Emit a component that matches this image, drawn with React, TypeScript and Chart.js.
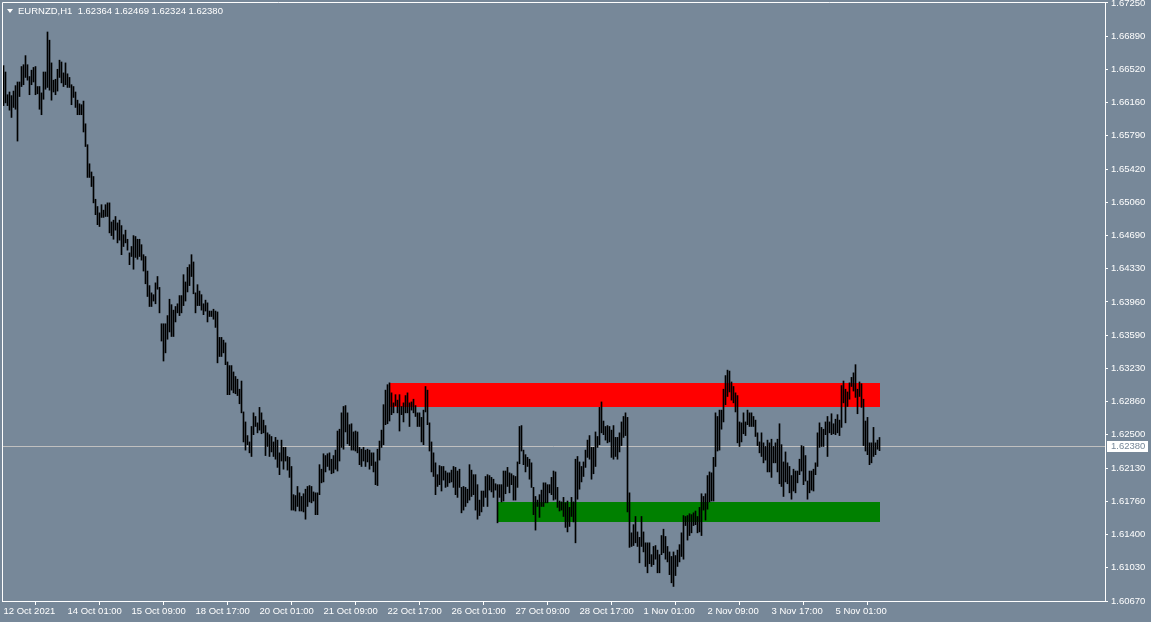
import React, { useEffect, useRef } from "react";
import { Chart, registerables } from "chart.js";

Chart.register(...registerables);

// ---------- data ----------
const symbolName = "EURNZD,H1";
const lastBarQuote = ["1.62364", "1.62469", "1.62324", "1.62380"];
const currentPrice = 1.6238;
const currentPriceLabel = "1.62380";

const xTickIndex = [0, 32, 64, 96, 128, 160, 192, 224, 256, 288, 320, 352, 384, 416];
const xTickLabels = [
  "12 Oct 2021", "14 Oct 01:00", "15 Oct 09:00", "18 Oct 17:00", "20 Oct 01:00",
  "21 Oct 09:00", "22 Oct 17:00", "26 Oct 01:00", "27 Oct 09:00", "28 Oct 17:00",
  "1 Nov 01:00", "2 Nov 09:00", "3 Nov 17:00", "5 Nov 01:00",
];

const yTickLabels = [
  "1.67250", "1.66890", "1.66520", "1.66160", "1.65790", "1.65420", "1.65060",
  "1.64690", "1.64330", "1.63960", "1.63590", "1.63230", "1.62860", "1.62500",
  "1.62130", "1.61760", "1.61400", "1.61030", "1.60670",
];
const yTickTop = 1.6725;
const yTickBottom = 1.6067;
const yMin = 1.6067;
const yMax = 1.6726;

const highs = [
  1.6656, 1.6649, 1.6624, 1.6627, 1.6623, 1.6628, 1.6634, 1.6638, 1.6638, 1.6655,
  1.6657, 1.6667, 1.6657, 1.6644, 1.6651, 1.6654, 1.6655, 1.6633, 1.6633, 1.6626,
  1.6649, 1.6649, 1.6693, 1.6684, 1.6659, 1.6640, 1.6641, 1.6652, 1.6662, 1.6660,
  1.6648, 1.6659, 1.6647, 1.6643, 1.6635, 1.6633, 1.6627, 1.6618, 1.6614, 1.6613,
  1.6617, 1.6592, 1.6569, 1.6548, 1.6539, 1.6534, 1.6509, 1.6501, 1.6494, 1.6503,
  1.6497, 1.6503, 1.6505, 1.6505, 1.6484, 1.6486, 1.6490, 1.6483, 1.6486, 1.6480,
  1.6470, 1.6475, 1.6465, 1.6450, 1.6457, 1.6469, 1.6468, 1.6465, 1.6465, 1.6459,
  1.6448, 1.6446, 1.6430, 1.6414, 1.6406, 1.6404, 1.6417, 1.6424, 1.6412, 1.6372,
  1.6372, 1.6372, 1.6381, 1.6399, 1.6393, 1.6387, 1.6391, 1.6394, 1.6403, 1.6403,
  1.6426, 1.6418, 1.6434, 1.6437, 1.6448, 1.6440, 1.6406, 1.6415, 1.6408, 1.6404,
  1.6394, 1.6398, 1.6395, 1.6386, 1.6386, 1.6388, 1.6386, 1.6385, 1.6357, 1.6357,
  1.6354, 1.6351, 1.6330, 1.6326, 1.6326, 1.6319, 1.6314, 1.6311, 1.6300, 1.6309,
  1.6275, 1.6264, 1.6249, 1.6242, 1.6259, 1.6274, 1.6270, 1.6263, 1.6280, 1.6274,
  1.6266, 1.6260, 1.6252, 1.6250, 1.6248, 1.6242, 1.6247, 1.6244, 1.6230, 1.6244,
  1.6236, 1.6236, 1.6226, 1.6225, 1.6215, 1.6184, 1.6183, 1.6193, 1.6186, 1.6182,
  1.6185, 1.6190, 1.6193, 1.6194, 1.6193, 1.6187, 1.6186, 1.6186, 1.6217, 1.6212,
  1.6229, 1.6227, 1.6229, 1.6230, 1.6223, 1.6227, 1.6233, 1.6254, 1.6256, 1.6274,
  1.6281, 1.6282, 1.6274, 1.6261, 1.6262, 1.6253, 1.6254, 1.6253, 1.6236, 1.6234,
  1.6236, 1.6233, 1.6234, 1.6233, 1.6230, 1.6230, 1.6220, 1.6234, 1.6243, 1.6255,
  1.6283, 1.6299, 1.6305, 1.6307, 1.6296, 1.6285, 1.6294, 1.6288, 1.6294, 1.6281,
  1.6285, 1.6293, 1.6296, 1.6285, 1.6286, 1.6289, 1.6282, 1.6274, 1.6274, 1.6269,
  1.6277, 1.6303, 1.6299, 1.6263, 1.6242, 1.6230, 1.6219, 1.6206, 1.6216, 1.6215,
  1.6215, 1.6210, 1.6208, 1.6208, 1.6211, 1.6215, 1.6214, 1.6210, 1.6212, 1.6192,
  1.6193, 1.6192, 1.6190, 1.6217, 1.6211, 1.6206, 1.6206, 1.6195, 1.6178, 1.6188,
  1.6188, 1.6204, 1.6206, 1.6205, 1.6203, 1.6201, 1.6196, 1.6195, 1.6195, 1.6195,
  1.6210, 1.6210, 1.6214, 1.6208, 1.6207, 1.6205, 1.6204, 1.6220, 1.6259, 1.6260,
  1.6233, 1.6228, 1.6225, 1.6223, 1.6219, 1.6192, 1.6182, 1.6178, 1.6184, 1.6189,
  1.6197, 1.6197, 1.6195, 1.6195, 1.6203, 1.6210, 1.6209, 1.6192, 1.6177, 1.6176,
  1.6181, 1.6175, 1.6177, 1.6170, 1.6181, 1.6176, 1.6223, 1.6226, 1.6220, 1.6215,
  1.6220, 1.6233, 1.6244, 1.6249, 1.6236, 1.6236, 1.6253, 1.6248, 1.6280, 1.6286,
  1.6265, 1.6259, 1.6260, 1.6259, 1.6255, 1.6260, 1.6247, 1.6247, 1.6252, 1.6264,
  1.6270, 1.6274, 1.6269, 1.6186, 1.6142, 1.6151, 1.6160, 1.6143, 1.6137, 1.6160,
  1.6143, 1.6131, 1.6131, 1.6131, 1.6118, 1.6127, 1.6128, 1.6123, 1.6118, 1.6139,
  1.6146, 1.6138, 1.6127, 1.6121, 1.6116, 1.6121, 1.6117, 1.6123, 1.6129, 1.6142,
  1.6161, 1.6160, 1.6161, 1.6163, 1.6162, 1.6164, 1.6166, 1.6160, 1.6170, 1.6185,
  1.6182, 1.6185, 1.6205, 1.6209, 1.6208, 1.6225, 1.6274, 1.6270, 1.6277, 1.6277,
  1.6300, 1.6315, 1.6321, 1.6320, 1.6308, 1.6303, 1.6296, 1.6293, 1.6264, 1.6263,
  1.6274, 1.6264, 1.6277, 1.6274, 1.6274, 1.6270, 1.6266, 1.6252, 1.6242, 1.6252,
  1.6241, 1.6237, 1.6244, 1.6241, 1.6245, 1.6237, 1.6241, 1.6245, 1.6262, 1.6239,
  1.6220, 1.6231, 1.6219, 1.6215, 1.6205, 1.6212, 1.6210, 1.6210, 1.6223, 1.6238,
  1.6237, 1.6227, 1.6199, 1.6210, 1.6210, 1.6212, 1.6219, 1.6252, 1.6263, 1.6258,
  1.6256, 1.6264, 1.6270, 1.6264, 1.6273, 1.6262, 1.6267, 1.6272, 1.6266, 1.6304,
  1.6309, 1.6300, 1.6297, 1.6307, 1.6313, 1.6318, 1.6327, 1.6300, 1.6308, 1.6306,
  1.6289, 1.6265, 1.6269, 1.6241, 1.6241, 1.6258, 1.6241, 1.6244, 1.62469,
];

const lows = [
  1.6612, 1.6615, 1.6612, 1.6607, 1.6599, 1.6610, 1.6608, 1.6573, 1.6622, 1.6633,
  1.6635, 1.6643, 1.6640, 1.6624, 1.6635, 1.6638, 1.6624, 1.6625, 1.6608, 1.6602,
  1.6619, 1.6630, 1.6632, 1.6629, 1.6618, 1.6627, 1.6624, 1.6628, 1.6643, 1.6637,
  1.6633, 1.6635, 1.6632, 1.6632, 1.6613, 1.6621, 1.6610, 1.6602, 1.6602, 1.6602,
  1.6583, 1.6567, 1.6533, 1.6533, 1.6523, 1.6505, 1.6492, 1.6481, 1.6479, 1.6489,
  1.6489, 1.6490, 1.6490, 1.6472, 1.6469, 1.6465, 1.6475, 1.6461, 1.6464, 1.6448,
  1.6457, 1.6461, 1.6453, 1.6437, 1.6446, 1.6432, 1.6445, 1.6443, 1.6446, 1.6442,
  1.6430, 1.6416, 1.6402, 1.6391, 1.6391, 1.6397, 1.6394, 1.6410, 1.6384, 1.6353,
  1.6331, 1.6340, 1.6355, 1.6363, 1.6358, 1.6358, 1.6374, 1.6384, 1.6381, 1.6384,
  1.6392, 1.6397, 1.6407, 1.6414, 1.6424, 1.6405, 1.6384, 1.6392, 1.6392, 1.6387,
  1.6382, 1.6386, 1.6374, 1.6380, 1.6380, 1.6377, 1.6368, 1.6329, 1.6336, 1.6336,
  1.6340, 1.6327, 1.6294, 1.6294, 1.6299, 1.6296, 1.6295, 1.6293, 1.6284, 1.6274,
  1.6242, 1.6233, 1.6239, 1.6230, 1.6226, 1.6250, 1.6259, 1.6252, 1.6255, 1.6251,
  1.6252, 1.6227, 1.6237, 1.6226, 1.6231, 1.6226, 1.6223, 1.6214, 1.6206, 1.6221,
  1.6212, 1.6221, 1.6211, 1.6203, 1.6167, 1.6167, 1.6166, 1.6171, 1.6166, 1.6166,
  1.6165, 1.6157, 1.6171, 1.6176, 1.6175, 1.6177, 1.6162, 1.6162, 1.6184, 1.6197,
  1.6198, 1.6209, 1.6215, 1.6211, 1.6207, 1.6208, 1.6212, 1.6210, 1.6221, 1.6236,
  1.6234, 1.6253, 1.6240, 1.6238, 1.6233, 1.6233, 1.6232, 1.6230, 1.6217, 1.6215,
  1.6221, 1.6215, 1.6220, 1.6212, 1.6216, 1.6209, 1.6195, 1.6194, 1.6222, 1.6236,
  1.6239, 1.6261, 1.6262, 1.6265, 1.6272, 1.6274, 1.6282, 1.6274, 1.6254, 1.6272,
  1.6264, 1.6274, 1.6274, 1.6259, 1.6277, 1.6274, 1.6270, 1.6259, 1.6259, 1.6242,
  1.6239, 1.6275, 1.6261, 1.6232, 1.6209, 1.6204, 1.6184, 1.6193, 1.6195, 1.6188,
  1.6200, 1.6192, 1.6193, 1.6197, 1.6198, 1.6192, 1.6184, 1.6181, 1.6192, 1.6164,
  1.6167, 1.6171, 1.6175, 1.6178, 1.6182, 1.6184, 1.6167, 1.6157, 1.6161, 1.6165,
  1.6171, 1.6181, 1.6171, 1.6189, 1.6187, 1.6181, 1.6189, 1.6153, 1.6181, 1.6176,
  1.6177, 1.6185, 1.6193, 1.6186, 1.6195, 1.6178, 1.6178, 1.6192, 1.6218, 1.6232,
  1.6217, 1.6209, 1.6215, 1.6201, 1.6192, 1.6162, 1.6145, 1.6171, 1.6159, 1.6171,
  1.6171, 1.6175, 1.6175, 1.6186, 1.6184, 1.6178, 1.6179, 1.6170, 1.6166, 1.6167,
  1.6160, 1.6148, 1.6143, 1.6149, 1.6160, 1.6154, 1.6131, 1.6179, 1.6190, 1.6198,
  1.6204, 1.6214, 1.6225, 1.6223, 1.6201, 1.6207, 1.6215, 1.6236, 1.6239, 1.6252,
  1.6250, 1.6244, 1.6241, 1.6242, 1.6225, 1.6223, 1.6226, 1.6223, 1.6231, 1.6238,
  1.6247, 1.6249, 1.6165, 1.6126, 1.6127, 1.6128, 1.6131, 1.6127, 1.6109, 1.6127,
  1.6121, 1.6105, 1.6098, 1.6108, 1.6105, 1.6107, 1.6113, 1.6098, 1.6098, 1.6118,
  1.6120, 1.6113, 1.6110, 1.6096, 1.6087, 1.6083, 1.6095, 1.6105, 1.6110, 1.6116,
  1.6113, 1.6150, 1.6134, 1.6139, 1.6142, 1.6150, 1.6151, 1.6142, 1.6143, 1.6139,
  1.6167, 1.6156, 1.6168, 1.6176, 1.6177, 1.6177, 1.6215, 1.6232, 1.6233, 1.6256,
  1.6264, 1.6283, 1.6292, 1.6297, 1.6288, 1.6285, 1.6275, 1.6241, 1.6237, 1.6242,
  1.6251, 1.6249, 1.6261, 1.6259, 1.6259, 1.6259, 1.6248, 1.6238, 1.6230, 1.6226,
  1.6219, 1.6222, 1.6209, 1.6209, 1.6203, 1.6219, 1.6219, 1.6209, 1.6196, 1.6193,
  1.6182, 1.6198, 1.6196, 1.6186, 1.6179, 1.6188, 1.6186, 1.6197, 1.6206, 1.6210,
  1.6195, 1.6199, 1.6179, 1.6186, 1.6189, 1.6188, 1.6206, 1.6215, 1.6236, 1.6237,
  1.6237, 1.6250, 1.6226, 1.6252, 1.6250, 1.6251, 1.6250, 1.6252, 1.6249, 1.6258,
  1.6285, 1.6263, 1.6281, 1.6289, 1.6303, 1.6298, 1.6291, 1.6273, 1.6292, 1.6280,
  1.6238, 1.6232, 1.6228, 1.6217, 1.6219, 1.6226, 1.6228, 1.6234, 1.62324,
];

// zones: [resistance, support]
const zoneStartIndex = [193, 247];
const zoneEndIndex = [438, 438];
const zoneTopPrice = [1.6307, 1.6176];
const zoneBottomPrice = [1.628, 1.6154];
const zoneColors = ["#FF0000", "#008000"];

// ---------- styling ----------
const BG = "#778899";
const FONT_FAMILY = '"Liberation Sans", Arial, sans-serif';
const FONT_SIZE = 9.5;

const overlayPlugin = {
  id: "mtOverlay",
  beforeDatasetsDraw(chart: any) {
    const { ctx, chartArea, scales } = chart;
    const xs = scales.x;
    const ys = scales.y;
    ctx.save();
    for (let k = 0; k < zoneStartIndex.length; k++) {
      const x0 = Math.round(xs.getPixelForValue(zoneStartIndex[k])) - 0.5;
      const x1 = Math.round(xs.getPixelForValue(zoneEndIndex[k])) - 0.5;
      const y0 = Math.round(ys.getPixelForValue(zoneTopPrice[k]));
      const y1 = Math.round(ys.getPixelForValue(zoneBottomPrice[k]));
      ctx.fillStyle = zoneColors[k];
      ctx.fillRect(Math.round(x0), y0, Math.round(x1 - x0), y1 - y0);
    }
    const py = Math.round(ys.getPixelForValue(currentPrice)) + 0.5;
    ctx.strokeStyle = "#C0C0C0";
    ctx.lineWidth = 1;
    ctx.beginPath();
    ctx.moveTo(chartArea.left, py);
    ctx.lineTo(chartArea.right, py);
    ctx.stroke();
    ctx.restore();
  },
  afterDraw(chart: any) {
    const { ctx, chartArea, scales } = chart;
    const ys = scales.y;
    ctx.save();
    ctx.strokeStyle = "#FFFFFF";
    ctx.lineWidth = 1;
    ctx.beginPath();
    ctx.moveTo(chartArea.left + 0.5, chartArea.bottom + 0.5);
    ctx.lineTo(chartArea.left + 0.5, chartArea.top + 0.5);
    ctx.lineTo(chartArea.right + 0.5, chartArea.top + 0.5);
    ctx.lineTo(chartArea.right + 0.5, chartArea.bottom + 0.5);
    ctx.lineTo(chartArea.left + 0.5, chartArea.bottom + 0.5);
    ctx.stroke();
    // current price label box
    const py = Math.round(ys.getPixelForValue(currentPrice));
    ctx.fillStyle = "#FFFFFF";
    ctx.fillRect(chartArea.right + 2, py - 5, 41, 11);
    ctx.fillStyle = BG;
    ctx.font = `${FONT_SIZE}px ${FONT_FAMILY}`;
    ctx.textBaseline = "middle";
    ctx.textAlign = "left";
    ctx.fillText(currentPriceLabel, chartArea.right + 6, py + 0.5);
    ctx.restore();
  },
};

export default function App() {
  const canvasRef = useRef<HTMLCanvasElement | null>(null);

  useEffect(() => {
    document.body.style.margin = "0";
    const canvas = canvasRef.current;
    if (!canvas) return;

    const yTickValues = yTickLabels.map(
      (_, k) => yTickTop - (k * (yTickTop - yTickBottom)) / (yTickLabels.length - 1)
    );

    const chart = new Chart(canvas, {
      type: "bar",
      data: {
        datasets: [
          {
            label: symbolName,
            data: highs.map((h, i) => ({ x: i, y: [lows[i], h] })) as any,
            backgroundColor: "#000000",
            borderWidth: 0,
            barThickness: 1,
            grouped: false,
          } as any,
        ],
      },
      options: {
        responsive: false,
        maintainAspectRatio: false,
        animation: false,
        devicePixelRatio: 1,
        layout: { padding: { left: 2, top: 2, right: 0, bottom: 0 } },
        plugins: {
          legend: { display: false },
          tooltip: { enabled: false },
          title: { display: false },
        },
        scales: {
          x: {
            type: "linear",
            min: -0.75,
            max: 550.75,
            offset: false,
            afterBuildTicks: (s: any) => {
              s.ticks = xTickIndex.map((v) => ({ value: v }));
            },
            afterFit: (s: any) => {
              s.height = 21;
              s.paddingLeft = 0;
              s.paddingRight = 0;
            },
            ticks: {
              autoSkip: false,
              maxRotation: 0,
              minRotation: 0,
              align: "start",
              padding: 1,
              color: "#FFFFFF",
              font: { family: FONT_FAMILY, size: FONT_SIZE },
              callback: (_v: any, i: number) => xTickLabels[i],
            },
            grid: {
              display: true,
              drawOnChartArea: false,
              drawTicks: true,
              tickLength: 4,
              color: "#FFFFFF",
            },
            border: { display: true, color: "#FFFFFF", width: 1 },
          },
          y: {
            type: "linear",
            position: "right",
            min: yMin,
            max: yMax,
            afterBuildTicks: (s: any) => {
              s.ticks = yTickValues.map((v) => ({ value: v }));
            },
            afterFit: (s: any) => {
              s.width = 46;
              s.paddingTop = 0;
              s.paddingBottom = 0;
            },
            ticks: {
              autoSkip: false,
              padding: 3,
              color: "#FFFFFF",
              font: { family: FONT_FAMILY, size: FONT_SIZE },
              callback: (_v: any, i: number) => yTickLabels[i],
            },
            grid: {
              display: true,
              drawOnChartArea: false,
              drawTicks: true,
              tickLength: 3,
              color: "#FFFFFF",
            },
            border: { display: true, color: "#FFFFFF", width: 1 },
          },
        },
      } as any,
      plugins: [overlayPlugin],
    });

    return () => chart.destroy();
  }, []);

  return (
    <div
      style={{
        position: "fixed",
        left: 0,
        top: 0,
        width: 1151,
        height: 622,
        background: BG,
        overflow: "hidden",
      }}
    >
      <canvas
        ref={canvasRef}
        width={1151}
        height={622}
        style={{ display: "block", width: 1151, height: 622 }}
      />
      <div
        style={{
          position: "absolute",
          left: 7,
          top: 9,
          width: 0,
          height: 0,
          borderLeft: "3px solid transparent",
          borderRight: "3px solid transparent",
          borderTop: "4px solid #FFFFFF",
        }}
      />
      <div
        style={{
          position: "absolute",
          left: 18,
          top: 5,
          color: "#FFFFFF",
          font: `${FONT_SIZE}px ${FONT_FAMILY}`,
          whiteSpace: "pre",
          lineHeight: "12px",
        }}
      >
        {`${symbolName}  ${lastBarQuote.join(" ")}`}
      </div>
    </div>
  );
}
